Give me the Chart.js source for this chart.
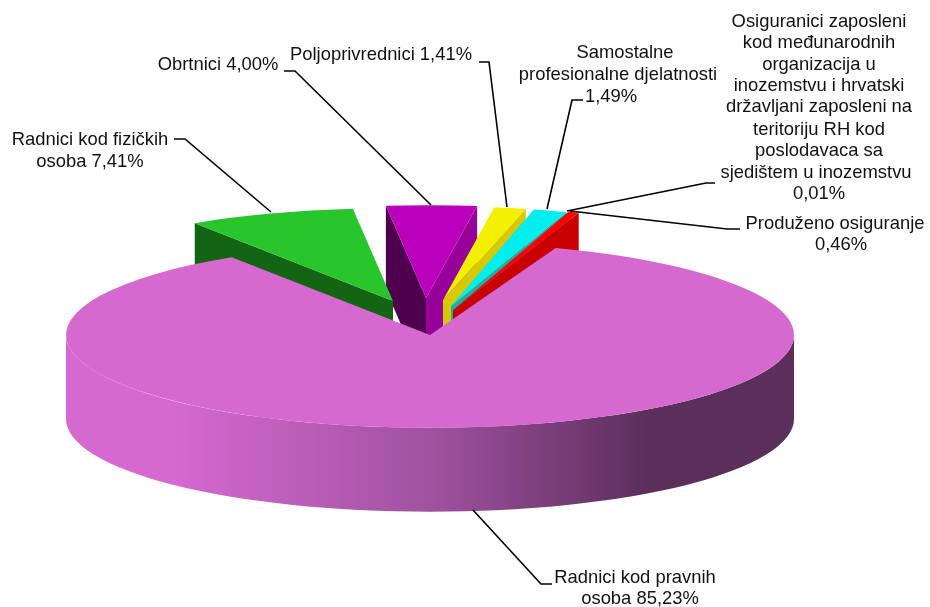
<!DOCTYPE html>
<html lang="hr">
<head>
    <meta charset="UTF-8">
    <title>Struktura osiguranika</title>
    <script src="https://cdn.jsdelivr.net/npm/chart.js"></script>
    <style>
        body { margin: 0; background: #fff; }
        canvas { display: block; }
    </style>
</head>
<body>
    <canvas id="pie" width="930" height="607"></canvas>

    <script>
        // pink slice last: it sits in front of the pulled out ones
        const categories = [
            'Radnici kod fizičkih osoba',
            'Obrtnici',
            'Poljoprivrednici',
            'Samostalne profesionalne djelatnosti',
            'Osiguranici zaposleni kod međunarodnih organizacija',
            'Produženo osiguranje',
            'Radnici kod pravnih osoba'
        ];
        const shares = [7.41, 4.00, 1.41, 1.49, 0.01, 0.46, 85.23];

        const topColors = ['#28c62c', '#bb00bb', '#f2f000', '#00eeee', '#30b0a8', '#ff0000', '#d569d0'];
        const startWall = ['#136413', '#4e004e', '#d8c800', '#18b0a8', '#30b0a8', '#c80000', '#d569d0'];
        const endWall = ['#136413', '#98009a', '#d8c800', '#18b0a8', '#30b0a8', '#c80000', '#d569d0'];

        // how far each slice is pulled from the pie, on screen
        const pullX = [-37, -4, 13, 21, 23, 23, 0];
        const pullY = [-34, -37, -35, -29, -25, -25, 0];
        // the far slices look a bit longer in the original's perspective
        const squash = [0.255, 0.255, 0.257, 0.272, 0.285, 0.285, 0.255];

        const center = { x: 430, y: 335 };
        const radius = 364;
        const depth = 84;

        const textLines = [
            ['Radnici kod fizičkih', 90, 140], ['osoba 7,41%', 90, 162],
            ['Obrtnici 4,00%', 218, 65],
            ['Poljoprivrednici 1,41%', 381, 55],
            ['Samostalne', 625, 53], ['profesionalne djelatnosti', 618, 75], ['1,49%', 611, 97],
            ['Osiguranici zaposleni', 819, 22], ['kod međunarodnih', 819, 43], ['organizacija u', 819, 65],
            ['inozemstvu i hrvatski', 819, 86], ['državljani zaposleni na', 819, 107], ['teritoriju RH kod', 819, 130],
            ['poslodavaca sa', 819, 151], ['sjedištem u inozemstvu', 816, 173], ['0,01%', 819, 194],
            ['Produženo osiguranje', 835, 224], ['0,46%', 841, 245],
            ['Radnici kod pravnih', 635, 578], ['osoba 85,23%', 640, 599]
        ];

        const leaders = [
            [[174, 139], [185, 139], [271, 212]],
            [[284, 71], [295, 71], [431, 205]],
            [[479, 62], [489, 62], [507, 207]],
            [[583, 100], [572, 100], [547, 209]],
            [[715, 183], [706, 183], [567, 211]],
            [[740, 229], [727, 229], [570, 211]],
            [[473, 510], [541, 584], [552, 584]]
        ];

        function cutFace(ctx, arc, i, angle, color) {
            const x0 = center.x + pullX[i];
            const y0 = center.y + pullY[i];
            const x1 = x0 + Math.cos(angle) * arc.outerRadius;
            const y1 = y0 + Math.sin(angle) * arc.outerRadius * squash[i];
            ctx.fillStyle = color;
            ctx.beginPath();
            ctx.moveTo(x0, y0);
            ctx.lineTo(x1, y1);
            ctx.lineTo(x1, y1 + depth);
            ctx.lineTo(x0, y0 + depth);
            ctx.closePath();
            ctx.fill();
        }

        function rimFace(ctx, arc, i) {
            const r = arc.outerRadius;
            const shade = ctx.createLinearGradient(center.x - r, 0, center.x + r, 0);
            shade.addColorStop(0, '#d569d0');
            shade.addColorStop(0.15, '#d569d0');
            shade.addColorStop(0.5, '#a052a0');
            shade.addColorStop(0.8, '#5c2e5c');
            shade.addColorStop(1, '#5c2e5c');
            ctx.fillStyle = shade;
            ctx.beginPath();
            ctx.ellipse(center.x, center.y, r, r * squash[i], 0, 0, Math.PI);
            ctx.ellipse(center.x, center.y + depth, r, r * squash[i], 0, Math.PI, 0, true);
            ctx.closePath();
            ctx.fill();
        }

        const flatPie = {
            id: 'flatPie',
            beforeDatasetDraw(chart, args) {
                const ctx = chart.ctx;
                const arcs = chart.getDatasetMeta(args.index).data;
                const farFirst = arcs.map((a, i) => i).sort((a, b) => pullY[a] - pullY[b]);

                // walls facing the viewer
                farFirst.forEach(i => {
                    const arc = arcs[i];
                    const startDeg = arc.startAngle + Math.PI / 2;
                    const endDeg = arc.endAngle + Math.PI / 2;
                    if (shares[i] > 50) {
                        rimFace(ctx, arc, i);
                        return;
                    }
                    if (Math.sin(startDeg) < 0) cutFace(ctx, arc, i, arc.startAngle, startWall[i]);
                    if (Math.sin(endDeg) > 0) cutFace(ctx, arc, i, arc.endAngle, endWall[i]);
                });

                // top faces, the arcs themselves squashed into ellipses
                arcs.forEach((arc, i) => {
                    ctx.save();
                    ctx.translate(center.x + pullX[i], center.y + pullY[i]);
                    ctx.scale(1, squash[i]);
                    ctx.translate(-arc.x, -arc.y);
                    arc.draw(ctx);
                    ctx.restore();
                });
                return false;
            },
            afterDraw(chart) {
                const ctx = chart.ctx;
                ctx.save();
                ctx.strokeStyle = '#000';
                ctx.lineWidth = 1.6;
                leaders.forEach(pts => {
                    ctx.beginPath();
                    pts.forEach((p, i) => i ? ctx.lineTo(p[0], p[1]) : ctx.moveTo(p[0], p[1]));
                    ctx.stroke();
                });
                ctx.fillStyle = '#111';
                ctx.font = '18.4px "Liberation Sans", Arial, sans-serif';
                ctx.textAlign = 'center';
                ctx.textBaseline = 'middle';
                textLines.forEach(t => ctx.fillText(t[0], t[1], t[2]));
                ctx.restore();
            }
        };

        new Chart(document.getElementById('pie'), {
            type: 'pie',
            data: {
                labels: categories,
                datasets: [{
                    data: shares,
                    backgroundColor: topColors,
                    borderWidth: 0
                }]
            },
            options: {
                responsive: false,
                animation: false,
                rotation: -33,
                radius: radius,
                plugins: {
                    legend: { display: false },
                    tooltip: { enabled: false }
                }
            },
            plugins: [flatPie]
        });
    </script>
</body>
</html>
